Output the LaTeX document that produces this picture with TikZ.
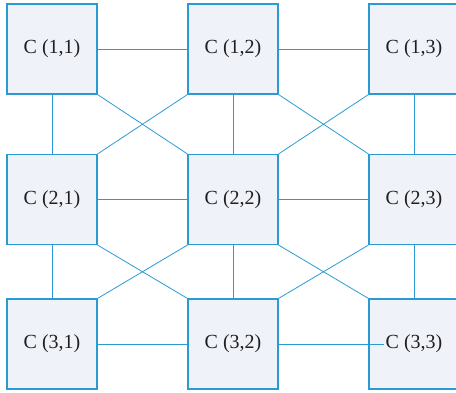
\documentclass[tikz,border=0pt]{standalone}
\usepackage{fontspec}
\setmainfont{Liberation Serif}
\usepackage{tikz}

\definecolor{cellblue}{HTML}{2B9AD3}
\definecolor{cellfill}{HTML}{EFF2F8}
\definecolor{celltext}{HTML}{231F20}

\tikzset{
  cell/.style={draw=cellblue, line width=1.1pt, fill=cellfill, minimum size=90pt, inner sep=0pt, text=celltext, font=\fontsize{20}{24}\selectfont},
  celltag/.style={inner sep=1pt, text=celltext, font=\fontsize{20}{24}\selectfont},
  wire/.style={draw=cellblue, line width=0.8pt}
}

\begin{document}
\begin{tikzpicture}[x=1pt,y=1pt]
\useasboundingbox (0,0) rectangle (456,392);
\clip (0,0) rectangle (456,392);

%%%%% boxes
\node[cell] (c11) at (52,343) {C (1,1)}; \node[cell] (c12) at (233,343) {C (1,2)}; \node[cell] (c13) at (414,343) {C (1,3)};
\node[cell] (c21) at (52,192.5) {C (2,1)}; \node[cell] (c22) at (233,192.5) {C (2,2)}; \node[cell] (c23) at (414,192.5) {C (2,3)};
\node[cell] (c31) at (52,48) {C (3,1)}; \node[cell] (c32) at (233,48) {}; \node[cell] (c33) at (414,48) {};
\node[celltag] (t32) at (c32) {C (3,2)}; \node[celltag] (t33) at (c33) {C (3,3)};

%%%%% rows
\draw[wire] (c11) -- (c12); \draw[wire] (c12) -- (c13);
\draw[wire] (c21) -- (c22); \draw[wire] (c22) -- (c23);
\draw[wire] (c31) -- (c32);

%%%%% columns
\draw[wire] (c11) -- (c21); \draw[wire] (c12) -- (c22); \draw[wire] (c13) -- (c23);
\draw[wire] (c21) -- (c31); \draw[wire] (c22) -- (c32); \draw[wire] (c23) -- (c33);

%%%%% crossings
\draw[wire] (c11.south east) -- (c22.north west); \draw[wire] (c12.south west) -- (c21.north east);
\draw[wire] (c12.south east) -- (c23.north west); \draw[wire] (c13.south west) -- (c22.north east);
\draw[wire] (c21.south east) -- (c32.north west); \draw[wire] (c22.south west) -- (c31.north east);
\draw[wire] (c22.south east) -- (c33.north west); \draw[wire] (c23.south west) -- (c32.north east);

%%%%% last row runs into the label
\draw[wire] (c32.east) -- (t33.west);

\end{tikzpicture}
\end{document}
